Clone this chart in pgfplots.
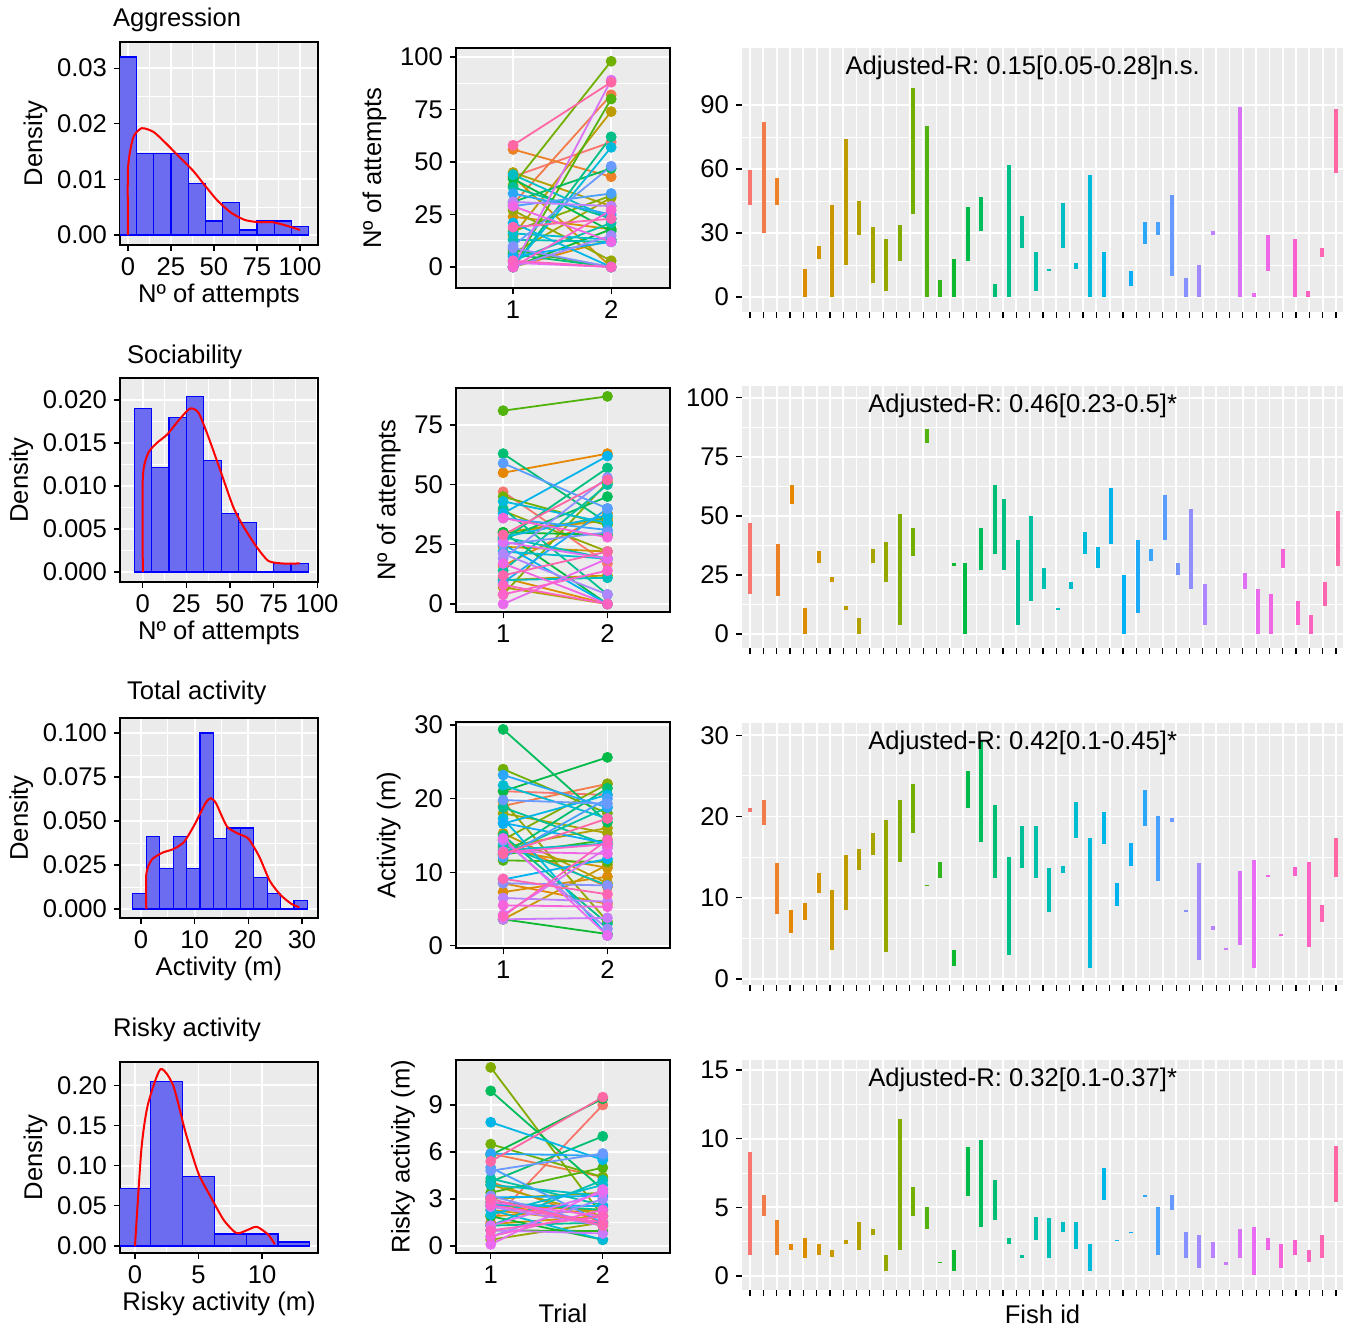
\documentclass[border=0pt]{standalone}
\usepackage{pgfplots}
\pgfplotsset{compat=1.18}
\usepackage{pgfplotstable}
\usepackage{fontspec}
\setmainfont{Liberation Sans}
\newcommand\fs{\fontsize{12.8}{15}\selectfont}
\definecolor{ggbg}{HTML}{EBEBEB}
\definecolor{hfill}{RGB}{108,108,240}
\pgfplotsset{
 colormap={gg}{HTML(0cm)=(F8766D) HTML(1cm)=(E58700) HTML(2cm)=(C99800) HTML(3cm)=(A3A500) HTML(4cm)=(6BB100) HTML(5cm)=(00BA38) HTML(6cm)=(00BF7D) HTML(7cm)=(00C0AF) HTML(8cm)=(00BCD8) HTML(9cm)=(00B0F6) HTML(10cm)=(619CFF) HTML(11cm)=(B983FF) HTML(12cm)=(E76BF3) HTML(13cm)=(FD61D1) HTML(14cm)=(FF67A4)},
 gg/.style={scale only axis, anchor=north west, axis background/.style={fill=ggbg},
  grid=both, major grid style={white, line width=0.9pt}, minor grid style={white, line width=0.45pt},
  tick align=outside, major tick style={black, line width=0.6pt}, major tick length=3pt, minor tick length=0pt,
  axis line style={black, line width=0.6pt}, xtick pos=bottom, ytick pos=left,
  tick label style={font=\fs}, label style={font=\fs}, /pgf/number format/assume math mode=true,
  scaled y ticks=false, scaled x ticks=false,
  minor y tick num=1, colormap name=gg, point meta min=750, point meta max=1336},
 c1/.style={gg, width=99pt, minor x tick num=1, ylabel={Density}, ylabel style={yshift=-2pt}, xlabel style={yshift=3pt}},
 c2/.style={gg, width=107pt, xtick={1,2}, xmin=0.55, xmax=2.6},
 c3/.style={gg, width=300.5pt, xmin=742, xmax=1343, xtick={750,763.318,...,1338}, xticklabels={}, axis line style={draw=none}},
 hist/.style={ybar interval, fill=hfill, draw=blue, line width=0.6pt},
 dens/.style={red, line width=1pt, smooth, tension=0.4, mark=none},
 yfix/.style={yticklabel style={/pgf/number format/fixed, /pgf/number format/fixed zerofill, /pgf/number format/precision=#1}},
}
\pgfplotstableread{
x a b
750 43 59.5
764 30 82
777 56 43
805 0 13
819 24 18
832 43 0
846 15 74
859 45 29
873 6.5 33
886 27 3
900 17 34
913 39 98
927 0 80
940 8 0
954 0 18
968 42 17
981 31 47
995 6 0
1009 0 62
1022 38 23
1036 3 21
1049 13 12
1063 44 23
1076 16 13
1090 0 57
1104 21 0
1131 5 12
1145 35 25
1158 29 35
1172 10 48
1186 9 0
1199 0 15
1213 31 29
1240 0 89
1254 2 0
1268 29 12
1295 0 27
1308 3 0
1322 19 23
1336 58 88
}\rowA
\pgfplotstableread{
x a b
750 47 17
778 16 38
792 55 63
805 11 0
819 30 35
832 24 22
846 10 12
859 7 0
873 30 36
886 39 22
900 4 51
913 45 33
927 81 87
954 30 29
965 30 0
981 27 45
995 63 34
1004 27 57
1018 40 4
1031 14 50
1044 28 19
1058 10 11
1071 22 19
1085 43 34
1098 28 37
1111 38 62
1124 25 0
1138 9 40
1151 36 31
1165 59 40
1178 25 30
1191 19 53
1205 21 4
1245 26 19
1258 0 19
1271 17 0
1283 36 28
1298 4 14
1311 8 0
1325 12 22
1338 29 52
}\rowB
\pgfplotstableread{
x a b
750 21 20.5
764 19 22
777 14.3 8
791 8.5 5.7
805 7.3 9.4
819 13.1 10.6
832 3.6 11
846 15.3 8.5
859 13.4 16
873 18 15.3
886 19.6 3.3
900 14.4 22
913 24 18
927 11.6 11.4
940 12.4 14.4
954 3.6 1.6
968 21 25.6
981 29.4 16.8
995 12.4 21.4
1009 15 3
1022 18.8 13.7
1036 12.4 18.8
1049 13.7 8.2
1063 13 13.9
1076 21.8 17.3
1090 17.3 1.4
1104 16.6 20.5
1117 9 11.8
1131 16.7 13.9
1145 23.2 18.8
1158 12 20
1172 19.8 19.3
1186 8.5 8.2
1199 14.3 2.3
1213 6.5 6
1226 3.6 3.8
1240 4.2 13.3
1254 14.6 1.4
1268 12.8 12.5
1281 5.5 5.3
1295 12.7 13.8
1309 4 14.4
1322 9.1 7
1336 12.5 17.3
}\rowC
\pgfplotstableread{
x a b
750 1.5 9
764 5.9 4.4
777 4.1 1.5
791 1.9 2.3
805 2.8 1.3
819 2.3 1.5
832 1.4 1.9
846 2.6 2.3
859 3.9 1.9
873 3 3.4
886 0.4 1.5
900 11.4 1.9
913 6.5 4.4
927 3.4 5
940 1 0.95
954 1.9 0.4
968 5.8 9.4
981 9.9 3.6
995 4.1 7
1009 2.8 2.3
1022 1.3 1.5
1036 4.3 2.6
1049 1.3 4.2
1063 3.9 3.2
1076 2 3.9
1090 2.3 0.4
1104 7.9 5.5
1117 2.6 2.55
1131 3.1 3.2
1145 5.9 5.75
1158 5 1.5
1172 4.8 5.9
1186 3.2 1.3
1199 0.6 3
1213 2.5 1.3
1226 1 0.8
1240 1.3 3.4
1254 0.1 3.6
1268 2.8 1.9
1281 0.6 2.3
1295 2.6 1.5
1309 1 1.9
1322 3 1.3
1336 5.4 9.5
}\rowD
\newcommand\trials[1]{%
 \addplot[quiver={u=1, v=\thisrow{b}-\thisrow{a}, colored=mapped color}, point meta=\thisrow{x}, line width=0.9pt, -] table[x expr=1, y=a] {#1};
 \addplot[scatter, only marks, mark=*, mark size=2.5pt, scatter/use mapped color={draw=mapped color, fill=mapped color}, point meta=\thisrow{x}] table[x expr=1, y=a] {#1};
 \addplot[scatter, only marks, mark=*, mark size=2.5pt, scatter/use mapped color={draw=mapped color, fill=mapped color}, point meta=\thisrow{x}] table[x expr=2, y=b] {#1};
}
\newcommand\segs[1]{%
 \addplot[quiver={u=0, v=\thisrow{b}-\thisrow{a}, colored=mapped color}, point meta=\thisrow{x}, line width=1.8pt, -] table[x=x, y=a] {#1};
}
\begin{document}
\begin{tikzpicture}
\path[use as bounding box] (0,0) rectangle (674pt,-665pt);
\node[anchor=west, font=\fs] at (53pt,-10pt) {Aggression};
\node[anchor=west, font=\fs] at (60pt,-178.5pt) {Sociability};
\node[anchor=west, font=\fs] at (60pt,-346.5pt) {Total activity};
\node[anchor=west, font=\fs] at (53pt,-515pt) {Risky activity};
% column 1
\begin{axis}[c1, at={(60pt,-21pt)}, height=101.5pt, xmin=-4.65, xmax=110.5, ymin=-0.0018, ymax=0.0347,
 xtick={0,25,50,75,100}, ytick={0,0.01,0.02,0.03}, yfix=2, xlabel={Nº of attempts}]
\addplot[hist] coordinates {(-5,0.032)(5,0.0147)(15,0.0147)(25,0.0147)(35,0.0093)(45,0.0025)(55,0.0058)(65,0.0009)(75,0.0025)(85,0.0025)(95,0.0015)(105,0.0015)};
\addplot[dens] coordinates {(0,0)(0,0.012)(3,0.0175)(8,0.0192)(15,0.0185)(22,0.0165)(30,0.014)(38,0.0115)(45,0.0088)(52,0.0062)(60,0.004)(68,0.0027)(76,0.0023)(84,0.0023)(92,0.0017)(100,0.0009)};
\end{axis}
\begin{axis}[c1, at={(60pt,-189pt)}, height=102pt, xmin=-13.1, xmax=100.5, ymin=-0.00116, ymax=0.02256,
 xtick={0,25,50,75,100}, ytick={0,0.005,0.01,0.015,0.02}, yfix=3, xlabel={Nº of attempts}]
\addplot[hist] coordinates {(-5,0.019)(5,0.0122)(15,0.018)(25,0.0204)(35,0.013)(45,0.0068)(55,0.0058)(65,0)(75,0.001)(85,0.001)(95,0.001)};
\addplot[dens] coordinates {(0,0)(0,0.011)(3,0.0138)(8,0.015)(14,0.016)(20,0.0175)(27,0.019)(32,0.0185)(38,0.0155)(45,0.0115)(52,0.0075)(58,0.0052)(65,0.003)(72,0.0013)(80,0.001)(90,0.001)};
\end{axis}
\begin{axis}[c1, at={(60pt,-359pt)}, height=100pt, xmin=-3.9, xmax=32.98, ymin=-0.0051, ymax=0.1085,
 xtick={0,10,20,30}, ytick={0,0.025,0.05,0.075,0.1}, yfix=3, xlabel={Activity (m)}]
\addplot[hist] coordinates {(-1.5,0.009)(1,0.041)(3.5,0.023)(6,0.041)(8.5,0.023)(11,0.1)(13.5,0.04)(16,0.046)(18.5,0.046)(21,0.018)(23.5,0.009)(26,0)(28.5,0.005)(31,0.005)};
\addplot[dens] coordinates {(1,0)(1,0.02)(2,0.028)(4,0.032)(6,0.034)(8,0.038)(10,0.048)(12,0.06)(13,0.063)(14,0.06)(16,0.047)(18,0.043)(20,0.04)(22,0.03)(24,0.016)(26,0.008)(28,0.003)(29.5,0.001)};
\end{axis}
\begin{axis}[c1, at={(60pt,-531pt)}, height=95.5pt, xmin=-1.18, xmax=14.4, ymin=-0.0087, ymax=0.229,
 xtick={0,5,10}, ytick={0,0.05,0.1,0.15,0.2}, yfix=2, xlabel={Risky activity (m)}]
\addplot[hist] coordinates {(-1.25,0.072)(1.25,0.205)(3.75,0.087)(6.25,0.015)(8.75,0.015)(11.25,0.005)(13.75,0.005)};
\addplot[dens] coordinates {(0,0)(0.5,0.12)(1,0.175)(2,0.22)(3,0.2)(4,0.14)(5,0.09)(6,0.06)(7,0.032)(8,0.016)(9,0.021)(9.6,0.024)(10.5,0.014)(11,0.002)};
\end{axis}
% column 2
\begin{axis}[c2, at={(228pt,-24pt)}, height=120pt, xmin=0.418, ymin=-10, ymax=104.3, ytick={0,25,50,75,100}, ylabel={Nº of attempts}]
\trials{\rowA}
\end{axis}
\begin{axis}[c2, at={(228pt,-194pt)}, height=112pt, xmin=0.548, ymin=-3.35, ymax=90.5, ytick={0,25,50,75}, ylabel={Nº of attempts}]
\trials{\rowB}
\end{axis}
\begin{axis}[c2, at={(228pt,-361pt)}, height=113pt, xmin=0.548, ymin=-0.3, ymax=30.4, ytick={0,10,20,30}, ylabel={Activity (m)}]
\trials{\rowC}
\end{axis}
\begin{axis}[c2, at={(228pt,-530pt)}, height=96.5pt, xmin=0.69, ymin=-0.45, ymax=11.87, ytick={0,3,6,9}, ylabel={Risky activity (m)}, xlabel={Trial}, xlabel style={yshift=-3pt}]
\trials{\rowD}
\end{axis}
% column 3
\begin{axis}[c3, at={(371pt,-24pt)}, height=132pt, ymin=-7, ymax=116.7, ytick={0,30,60,90}]
\segs{\rowA}
\node[anchor=north, font=\fs] at (rel axis cs:0.467,0.995) {Adjusted-R: 0.15[0.05-0.28]n.s.};
\end{axis}
\begin{axis}[c3, at={(371pt,-193pt)}, height=131pt, ymin=-5.9, ymax=105, ytick={0,25,50,75,100}]
\segs{\rowB}
\node[anchor=north, font=\fs] at (rel axis cs:0.467,0.995) {Adjusted-R: 0.46[0.23-0.5]*};
\end{axis}
\begin{axis}[c3, at={(371pt,-361.5pt)}, height=131pt, ymin=-0.74, ymax=31.5, ytick={0,10,20,30}]
\segs{\rowC}
\node[anchor=north, font=\fs] at (rel axis cs:0.467,0.995) {Adjusted-R: 0.42[0.1-0.45]*};
\end{axis}
\begin{axis}[c3, at={(371pt,-530pt)}, height=115pt, ymin=-1.02, ymax=15.73, ytick={0,5,10,15}, clip=false]
\segs{\rowD}
\node[anchor=north, font=\fs] at (rel axis cs:0.467,0.995) {Adjusted-R: 0.32[0.1-0.37]*};
\node[anchor=north, font=\fs, yshift=-4pt] at (rel axis cs:0.5,0) {Fish id};
\end{axis}
\end{tikzpicture}
\end{document}
